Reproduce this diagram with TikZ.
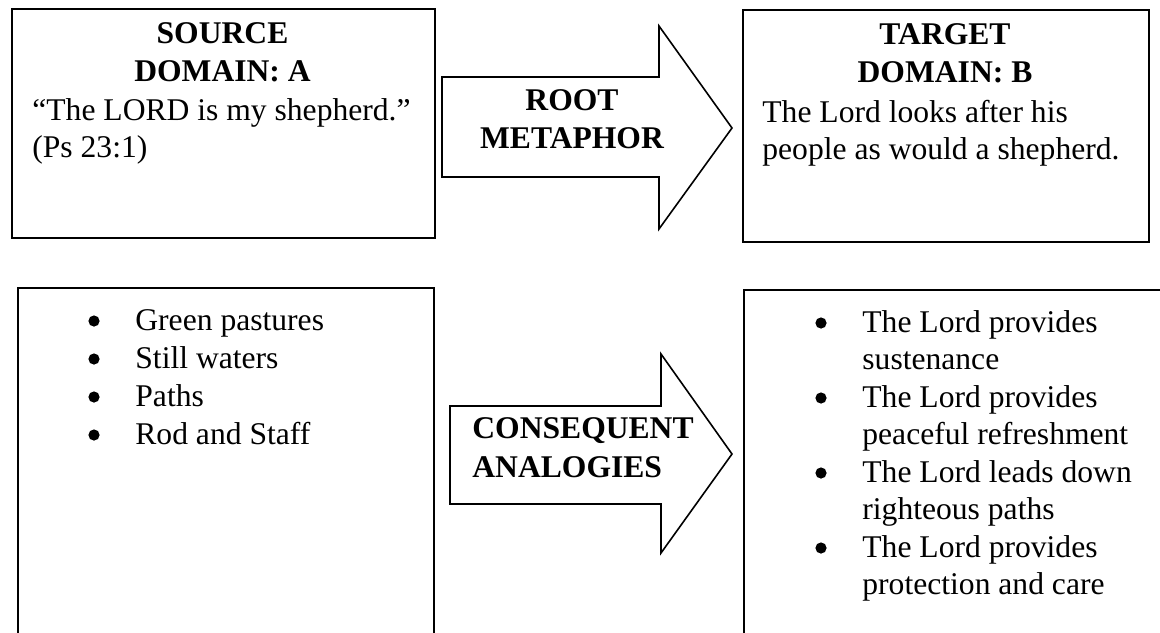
\documentclass[tikz,border=0pt]{standalone}
\usepackage{fontspec}
\setmainfont{Liberation Serif}
\begin{document}
\begin{tikzpicture}[x=0.5pt,y=-0.5pt,
  box/.style={draw,line width=1pt,inner sep=0pt,anchor=north west},
  blockarrow/.style={draw,line width=0.8pt,line join=miter},
  txt/.style={font=\fontsize{15.8}{18.75}\selectfont,inner sep=0pt,anchor=base west},
  head/.style={font=\fontsize{15.8}{18.75}\selectfont\bfseries,inner sep=0pt,anchor=base},
  headw/.style={head,anchor=base west},
  dot/.style={circle,fill=black,inner sep=0pt,minimum size=5.6pt}
]
\useasboundingbox (0,0) rectangle (1160,632);
\clip (0,0) rectangle (1160,632);

% the four domain boxes
\node[box,minimum width=211.5pt,minimum height=114.5pt] (src) at (11,8) {};
\node[box,minimum width=203pt,minimum height=116pt] (tgt) at (742,9) {};
\node[box,minimum width=208pt,minimum height=200pt] (srcl) at (17,287) {};
\node[box,minimum width=225pt,minimum height=200pt] (tgtl) at (743,289) {};

% block arrows
\draw[blockarrow] (442,77) -- (659,77) -- (659,26) -- (732,128) -- (659,229) -- (659,177) -- (442,177) -- cycle;
\draw[blockarrow] (450,406) -- (661,406) -- (661,354) -- (732,454) -- (661,553) -- (661,504) -- (450,504) -- cycle;

% source domain
\node[head] (srcH1) at (222.5,43) {SOURCE};
\node[head] (srcH2) at (222.5,81) {DOMAIN: A};
\node[txt] (srcT1) at (32,120) {“The LORD is my shepherd.”};
\node[txt] (srcT2) at (32,157) {(Ps 23:1)};

% target domain
\node[head] (tgtH1) at (945,44) {TARGET};
\node[head] (tgtH2) at (945,82) {DOMAIN: B};
\node[txt] (tgtT1) at (762,122) {The Lord looks after his};
\node[txt] (tgtT2) at (762,159) {people as would a shepherd.};

% arrow labels
\node[head] (rm1) at (572,110) {ROOT};
\node[head] (rm2) at (572,148) {METAPHOR};
\node[headw] (ca1) at (472,438) {CONSEQUENT};
\node[headw] (ca2) at (472,477) {ANALOGIES};

% source images
\node[dot] (b1) at (94,321) {};
\node[txt] (s1) at (135,330) {Green pastures};
\node[dot] (b2) at (94,359) {};
\node[txt] (s2) at (135,368) {Still waters};
\node[dot] (b3) at (94,397) {};
\node[txt] (s3) at (135,406) {Paths};
\node[dot] (b4) at (94,435) {};
\node[txt] (s4) at (135,444) {Rod and Staff};

% target correspondences
\node[dot] (c1) at (821,323) {};
\node[txt] (t1a) at (862,332) {The Lord provides};
\node[txt] (t1b) at (862,369.5) {sustenance};
\node[dot] (c2) at (821,398) {};
\node[txt] (t2a) at (862,407) {The Lord provides};
\node[txt] (t2b) at (862,444.5) {peaceful refreshment};
\node[dot] (c3) at (821,473) {};
\node[txt] (t3a) at (862,482) {The Lord leads down};
\node[txt] (t3b) at (862,519.5) {righteous paths};
\node[dot] (c4) at (821,548) {};
\node[txt] (t4a) at (862,557) {The Lord provides};
\node[txt] (t4b) at (862,594.5) {protection and care};
\end{tikzpicture}
\end{document}
